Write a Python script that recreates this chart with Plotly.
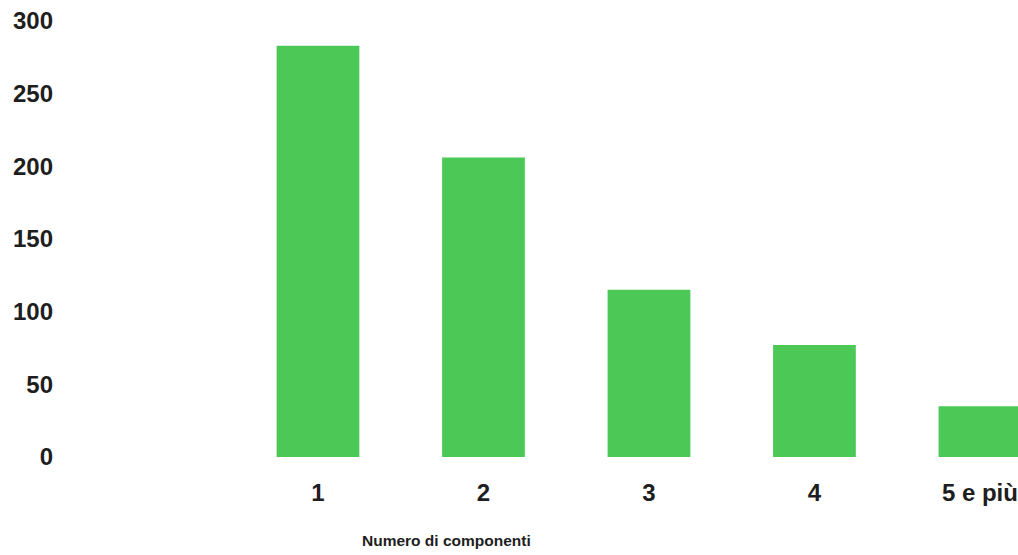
import plotly.graph_objects as go

# Households by number of members
categories = ["1", "2", "3", "4", "5 e più"]
counts = [283, 206, 115, 77, 35]
y_ticks = [0, 50, 100, 150, 200, 250, 300]

x_pos = list(range(len(categories)))

fig = go.Figure(
    go.Bar(
        x=x_pos,
        y=counts,
        width=0.5,
        marker=dict(color="#4CC857", line=dict(width=0)),
        hoverinfo="x+y",
    )
)

font_ticks = dict(family="Liberation Sans, Arial, sans-serif", size=24, color="#1e1e1e")

fig.update_layout(
    width=1018,
    height=555,
    margin=dict(l=60, r=0, t=0, b=98),
    paper_bgcolor="white",
    plot_bgcolor="white",
    showlegend=False,
    xaxis=dict(
        range=[-1.559, 4.23],
        tickmode="array",
        tickvals=x_pos,
        ticktext=[f"<b>{c}</b>" for c in categories],
        tickfont=font_ticks,
        showgrid=False,
        zeroline=False,
        showline=False,
        ticks="",
        ticklabelstandoff=19,
    ),
    yaxis=dict(
        range=[0, 314.4],
        tickmode="array",
        tickvals=y_ticks,
        ticktext=[f"<b>{v}</b>" for v in y_ticks],
        tickfont=font_ticks,
        showgrid=False,
        zeroline=False,
        showline=False,
        ticks="",
        ticklabelstandoff=6,
    ),
    annotations=[
        dict(
            text="<b>Numero di componenti</b>",
            xref="paper",
            yref="paper",
            x=(446 - 60) / 958,
            y=-(540 - 457) / 457,
            xanchor="center",
            yanchor="middle",
            showarrow=False,
            font=dict(family="Liberation Sans, Arial, sans-serif", size=15.5, color="#1e1e1e"),
        )
    ],
)

fig.write_html("out.html")
